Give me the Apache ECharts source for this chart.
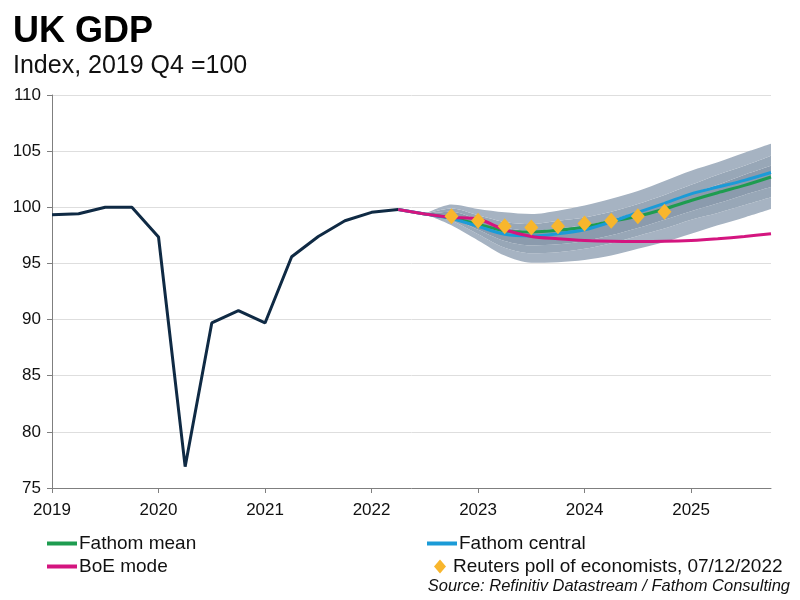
<!DOCTYPE html>
<html><head><meta charset="utf-8">
<script src="https://cdn.jsdelivr.net/npm/echarts@6/dist/echarts.min.js"></script>
<style>html,body{margin:0;padding:0;background:#fff}#c{width:800px;height:600px}</style>
</head><body><div id="c"></div>
<script>
// Quarterly categories 2019 Q1 .. 2025 Q4
const years = [2019, 2020, 2021, 2022, 2023, 2024, 2025];
const quarters = ['Q1', 'Q2', 'Q3', 'Q4'];
const categories = [];
years.forEach(y => quarters.forEach(q => categories.push(y + ' ' + q)));

// Outturn: 2019 Q1 .. 2022 Q2
const history = [99.33, 99.42, 100.0, 100.0, 97.35, 76.9, 89.7, 90.8, 89.7, 95.6, 97.4, 98.8, 99.55, 99.8];
// Forecasts: 2022 Q2 .. 2025 Q4
const boeMode = [99.8, 99.4, 99.1, 98.95, 98.0, 97.4, 97.2, 97.05, 96.97, 96.95, 96.97, 97.05, 97.2, 97.4, 97.65];
const fathomCentral = [99.8, 99.4, 99.0, 98.3, 97.6, 97.45, 97.65, 98.0, 98.7, 99.55, 100.35, 101.2, 101.8, 102.4, 103.1];
const fathomMean = [99.8, 99.4, 99.05, 98.5, 97.9, 97.8, 97.95, 98.25, 98.75, 99.2, 99.85, 100.6, 101.3, 101.95, 102.7];
// Reuters poll: 2022 Q4 .. 2024 Q4
const reuters = [99.2, 98.8, 98.3, 98.2, 98.3, 98.55, 98.8, 99.2, 99.6];
// Fan band edges: 2022 Q3 .. 2025 Q4
const fanUpper90 = [99.4, 100.25, 99.85, 99.55, 99.4, 99.7, 100.15, 100.75, 101.45, 102.35, 103.25, 104.0, 104.85, 105.65];
const fanUpper60 = [99.4, 99.9, 99.3, 98.7, 98.5, 98.8, 99.1, 99.6, 100.3, 101.1, 102.0, 102.9, 103.7, 104.6];
const fanUpper30 = [99.4, 99.6, 98.9, 98.2, 97.9, 98.1, 98.4, 98.9, 99.6, 100.4, 101.2, 102.0, 102.9, 103.7];
const fanLower30 = [99.4, 99.05, 98.0, 97.0, 96.6, 96.7, 97.0, 97.5, 98.15, 98.9, 99.65, 100.35, 101.1, 101.8];
const fanLower60 = [99.4, 98.8, 97.6, 96.4, 95.9, 96.0, 96.3, 96.8, 97.45, 98.1, 98.9, 99.5, 100.2, 100.9];
const fanLower90 = [99.4, 98.4, 97.05, 95.7, 95.05, 95.1, 95.3, 95.7, 96.3, 96.9, 97.65, 98.4, 99.1, 99.85];
const yTicks = [75, 80, 85, 90, 95, 100, 105, 110];

const N = categories.length;
function place(arr, start) {
  const out = new Array(N).fill('-');
  arr.forEach((v, i) => { out[start + i] = v; });
  return out;
}
const iHist = 0, iFc = 13, iFan = 14, iReu = 15;
function diff(a, b) { return a.map((v, i) => +(v - b[i]).toFixed(3)); }

const C_OUT = '#a6b3c2', C_MID = '#98a7b7', C_IN = '#8b9bad';
function band(name, data, color) {
  return {
    name: name, type: 'line', stack: 'fan', data: place(data, iFan),
    showSymbol: false, symbol: 'none', silent: true, smooth: 0.3,
    lineStyle: { width: 0 }, areaStyle: { color: color, opacity: color ? 1 : 0 },
    z: 1
  };
}

const chart = echarts.init(document.getElementById('c'));
const FONT = '"Liberation Sans", Arial, sans-serif';
const legText = { fontSize: 19, color: '#111', fontFamily: FONT, padding: [0, 0, 0, -3] };
chart.setOption({
  animation: false,
  textStyle: { fontFamily: FONT },
  title: [
    { text: 'UK GDP', left: 13, top: 14, padding: 0, textStyle: { fontFamily: FONT, fontSize: 36, fontWeight: 'bold', color: '#000' } },
    { text: 'Index, 2019 Q4 =100', left: 13, top: 54, padding: 0, textStyle: { fontFamily: FONT, fontSize: 25, fontWeight: 'normal', color: '#111' } },
    { text: 'Source: Refinitiv Datastream / Fathom Consulting', right: 10, top: 578, padding: 0, textStyle: { fontFamily: FONT, fontSize: 16.5, fontStyle: 'italic', fontWeight: 'normal', color: '#111' } }
  ],
  grid: { left: 52, right: 29, top: 95, bottom: 112, containLabel: false },
  xAxis: {
    type: 'category', data: categories, boundaryGap: false,
    axisLine: { lineStyle: { color: '#7f7f7f', width: 1 } },
    axisTick: { interval: 3, length: 5, lineStyle: { color: '#7f7f7f' } },
    axisLabel: { interval: 3, fontSize: 17, color: '#111', margin: 14, fontFamily: FONT,
      formatter: v => v.split(' ')[0] },
    splitLine: { show: false }
  },
  yAxis: {
    type: 'value', min: yTicks[0], max: yTicks[yTicks.length - 1], interval: 5,
    axisLine: { show: true, lineStyle: { color: '#7f7f7f', width: 1 } },
    axisTick: { show: true, length: 5, lineStyle: { color: '#7f7f7f' } },
    axisLabel: { fontSize: 17, color: '#111', margin: 11, fontFamily: FONT },
    splitLine: { lineStyle: { color: '#dedede', width: 1 } }
  },
  legend: [
    { left: 47, top: 534, padding: 0, itemWidth: 30, itemHeight: 4, icon: 'rect', textStyle: legText, data: [{ name: 'Fathom mean' }] },
    { left: 427, top: 534, padding: 0, itemWidth: 30, itemHeight: 4, icon: 'rect', textStyle: legText, data: [{ name: 'Fathom central' }] },
    { left: 47, top: 557, padding: 0, itemWidth: 30, itemHeight: 4, icon: 'rect', textStyle: legText, data: [{ name: 'BoE mode' }] },
    { left: 434, top: 557, padding: 0, itemWidth: 12, itemHeight: 14, icon: 'diamond',
      textStyle: Object.assign({}, legText, { padding: [0, 0, 0, 2] }), data: [{ name: 'Reuters poll of economists, 07/12/2022' }] }
  ],
  series: [
    band('fanBase', fanLower90, null),
    band('fanL1', diff(fanLower60, fanLower90), C_OUT),
    band('fanL2', diff(fanLower30, fanLower60), C_MID),
    band('fanC', diff(fanUpper30, fanLower30), C_IN),
    band('fanU2', diff(fanUpper60, fanUpper30), C_MID),
    band('fanU1', diff(fanUpper90, fanUpper60), C_OUT),
    { name: 'GDP', type: 'line', data: place(history, iHist), symbol: 'none',
      lineStyle: { color: '#0f2a44', width: 3 }, z: 5 },
    { name: 'BoE mode', type: 'line', data: place(boeMode, iFc), symbol: 'none', smooth: 0.3,
      itemStyle: { color: '#d4157f' }, lineStyle: { color: '#d4157f', width: 3 }, z: 6 },
    { name: 'Fathom mean', type: 'line', data: place(fathomMean, iFc), symbol: 'none', smooth: 0.3,
      itemStyle: { color: '#1e9c50' }, lineStyle: { color: '#1e9c50', width: 3 }, z: 4 },
    { name: 'Fathom central', type: 'line', data: place(fathomCentral, iFc), symbol: 'none', smooth: 0.3,
      itemStyle: { color: '#1b9bd7' }, lineStyle: { color: '#1b9bd7', width: 3 }, z: 5 },
    { name: 'Reuters poll of economists, 07/12/2022', type: 'line', data: place(reuters, iReu),
      symbol: 'diamond', symbolSize: [14, 16], showSymbol: true,
      lineStyle: { width: 0, opacity: 0 }, itemStyle: { color: '#f8b62d' }, z: 7 }
  ]
});
</script></body></html>
